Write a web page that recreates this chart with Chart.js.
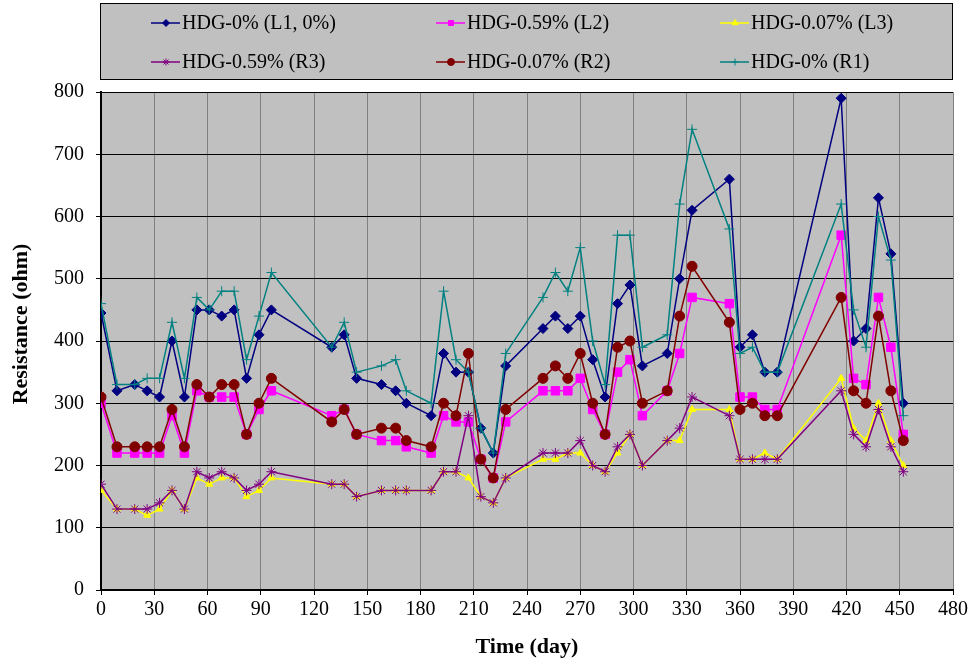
<!DOCTYPE html>
<html>
<head>
<meta charset="utf-8">
<script src="https://cdn.jsdelivr.net/npm/chart.js@4.4.0/dist/chart.umd.min.js"></script>
<style>
  html, body { margin: 0; padding: 0; background: #ffffff; }
</style>
</head>
<body>
<canvas id="chart" width="974" height="665"></canvas>
<script>
// time of each reading (day)
const days = [0, 9, 19, 26, 33, 40, 47, 54, 61, 68, 75, 82, 89, 96,
    130, 137, 144, 158, 166, 172, 186, 193, 200, 207, 214, 221, 228,
    249, 256, 263, 270, 277, 284, 291, 298, 305, 319, 326, 333,
    354, 360, 367, 374, 381, 417, 424, 431, 438, 445, 452];

const hdg0L1 = [445, 320, 330, 320, 310, 400, 310, 450, 450, 440, 450, 340, 410, 450,
    390, 410, 340, 330, 320, 300, 280, 380, 350, 350, 260, 220, 360,
    420, 440, 420, 440, 370, 310, 460, 490, 360, 380, 500, 610,
    660, 390, 410, 350, 350, 790, 400, 420, 630, 540, 300];
const hdg059L2 = [300, 220, 220, 220, 220, 280, 220, 320, 310, 310, 310, 250, 290, 320,
    280, 290, 250, 240, 240, 230, 220, 280, 270, 270, 210, 180, 270,
    320, 320, 320, 340, 290, 250, 350, 370, 280, 320, 380, 470,
    460, 310, 310, 290, 290, 570, 340, 330, 470, 390, 250];
const hdg007L3 = [160, 130, 130, 120, 130, 160, 130, 180, 170, 180, 180, 150, 160, 180,
    170, 170, 150, 160, 160, 160, 160, 190, 190, 180, 150, 140, 180,
    210, 210, 220, 220, 200, 190, 220, 250, 200, 240, 240, 290,
    290, 210, 210, 220, 210, 340, 260, 240, 300, 240, 200];
const hdg059R3 = [170, 130, 130, 130, 140, 160, 130, 190, 180, 190, 180, 160, 170, 190,
    170, 170, 150, 160, 160, 160, 160, 190, 190, 280, 150, 140, 180,
    220, 220, 220, 240, 200, 190, 230, 250, 200, 240, 260, 310,
    280, 210, 210, 210, 210, 320, 250, 230, 290, 230, 190];
const hdg007R2 = [310, 230, 230, 230, 230, 290, 230, 330, 310, 330, 330, 250, 300, 340,
    270, 290, 250, 260, 260, 240, 230, 300, 280, 380, 210, 180, 290,
    340, 360, 340, 380, 300, 250, 390, 400, 300, 320, 440, 520,
    430, 290, 300, 280, 280, 470, 320, 300, 440, 320, 240];
const hdg0R1 = [460, 330, 330, 340, 340, 430, 340, 470, 450, 480, 480, 370, 440, 510,
    390, 430, 350, 360, 370, 320, 300, 480, 370, 350, 260, 220, 380,
    470, 510, 480, 550, 400, 330, 570, 570, 390, 410, 620, 740,
    580, 380, 390, 350, 350, 620, 450, 390, 600, 530, 280];

const seriesNames = ['HDG-0% (L1, 0%)', 'HDG-0.59% (L2)', 'HDG-0.07% (L3)',
    'HDG-0.59% (R3)', 'HDG-0.07% (R2)', 'HDG-0% (R1)'];
const seriesValues = [hdg0L1, hdg059L2, hdg007L3, hdg059R3, hdg007R2, hdg0R1];

const xTicks = [0, 30, 60, 90, 120, 150, 180, 210, 240, 270, 300, 330, 360, 390, 420, 450, 480];
const yTicks = [0, 100, 200, 300, 400, 500, 600, 700, 800];

const seriesColors = ['#000080', '#ff00ff', '#ffff00', '#800080', '#800000', '#008080'];
const seriesPoints = ['rectRot', 'rect', 'triangle', 'star', 'circle', 'cross'];
const seriesRadius = [5, 6, 4, 5, 5, 5];

const serif = "'Liberation Serif', 'Times New Roman', serif";

const datasets = seriesValues.map((values, i) => ({
    label: seriesNames[i],
    data: values.map((v, j) => ({x: days[j], y: v})),
    borderColor: seriesColors[i],
    backgroundColor: seriesColors[i],
    borderWidth: 1.5,
    tension: 0,
    pointStyle: seriesPoints[i],
    pointRadius: seriesRadius[i],
    pointBorderWidth: 1,
    pointBackgroundColor: seriesColors[i],
    pointBorderColor: seriesColors[i],
    order: seriesValues.length - i,
}));

// grey plot area, like the spreadsheet original
const plotBackground = {
    id: 'plotBackground',
    beforeDraw(c) {
        const {ctx, chartArea: a} = c;
        ctx.save();
        ctx.fillStyle = '#c0c0c0';
        ctx.fillRect(a.left, a.top, a.right - a.left, a.bottom - a.top);
        ctx.restore();
    },
};

// boxed legend, 3 columns x 2 rows, plus the rotated y title
const boxLegend = {
    id: 'boxLegend',
    afterDraw(c) {
        const ctx = c.ctx;
        ctx.save();
        ctx.fillStyle = '#c0c0c0';
        ctx.fillRect(100, 3, 852, 76);
        ctx.strokeStyle = '#000';
        ctx.lineWidth = 1;
        ctx.strokeRect(100.5, 3.5, 852, 76);

        const colX = [151, 436, 720];
        const rowY = [23, 62];
        ctx.font = '20px ' + serif;
        ctx.textBaseline = 'middle';
        ctx.textAlign = 'left';
        c.data.datasets.forEach((ds, i) => {
            const x = colX[i % 3];
            const y = rowY[Math.floor(i / 3)];
            ctx.strokeStyle = ds.borderColor;
            ctx.fillStyle = ds.borderColor;
            ctx.lineWidth = 1.5;
            ctx.beginPath();
            ctx.moveTo(x, y);
            ctx.lineTo(x + 29, y);
            ctx.stroke();
            ctx.lineWidth = 1;
            Chart.helpers.drawPoint(ctx, {pointStyle: ds.pointStyle, radius: 3.5, rotation: 0, borderWidth: 1}, x + 15, y);
            ctx.fillStyle = '#000';
            ctx.fillText(ds.label, x + 31, y + 1);
        });

        ctx.translate(21, 324);
        ctx.rotate(-Math.PI / 2);
        ctx.textAlign = 'center';
        ctx.font = 'bold 22px ' + serif;
        ctx.fillText('Resistance (ohm)', 0, 0);
        ctx.restore();
    },
};

new Chart(document.getElementById('chart'), {
    type: 'line',
    data: {datasets: datasets},
    options: {
        responsive: false,
        animation: false,
        layout: {
            padding: {top: 92, right: 21, left: 0, bottom: 0},
        },
        scales: {
            x: {
                type: 'linear',
                min: 0,
                max: 480,
                afterFit: (scale) => { scale.height = 75; },
                afterBuildTicks: (scale) => { scale.ticks = xTicks.map((v) => ({value: v})); },
                border: {display: true, color: '#000', width: 2},
                grid: {color: '#808080', lineWidth: 1, tickColor: '#000', tickLength: 5},
                ticks: {color: '#000', font: {family: serif, size: 20}, padding: 3, maxRotation: 0},
                title: {
                    display: true,
                    text: 'Time (day)',
                    color: '#000',
                    font: {family: serif, size: 22, weight: 'bold'},
                    padding: {top: 0, bottom: 4},
                },
            },
            y: {
                min: 0,
                max: 800,
                afterFit: (scale) => { scale.width = 101; },
                afterBuildTicks: (scale) => { scale.ticks = yTicks.map((v) => ({value: v})); },
                border: {display: true, color: '#000', width: 2},
                grid: {color: '#000', lineWidth: 1, tickColor: '#000', tickLength: 5},
                ticks: {color: '#000', font: {family: serif, size: 20}, padding: 12},
            },
        },
        plugins: {
            legend: {display: false},
            tooltip: {enabled: false},
        },
    },
    plugins: [plotBackground, boxLegend],
});
</script>
</body>
</html>
